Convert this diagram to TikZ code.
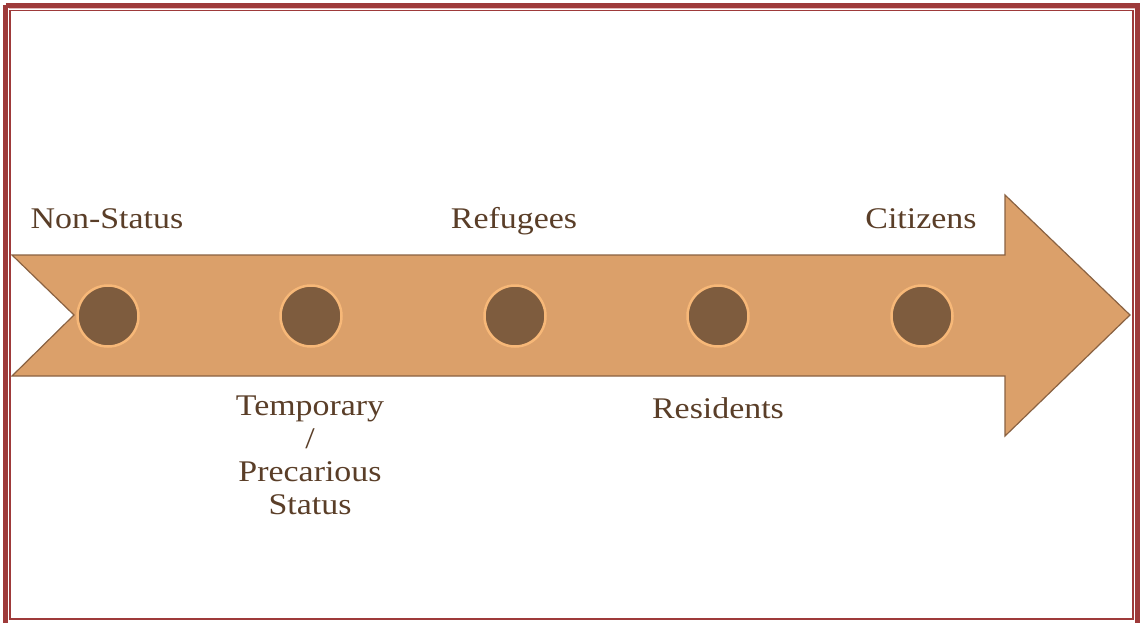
\documentclass[tikz,border=0pt]{standalone}
\usepackage{fontspec}
\setmainfont{Liberation Serif}[FakeStretch=1.13]
\definecolor{frame}{HTML}{9E3A3A}
\definecolor{framelight}{HTML}{E2B8B8}
\definecolor{arrowfill}{HTML}{DBA06A}
\definecolor{arrowedge}{HTML}{8A6242}
\definecolor{dotfill}{HTML}{7E5C3E}
\definecolor{dotring}{HTML}{F7B878}
\definecolor{txt}{HTML}{5A3E28}
\tikzset{
  dot/.style={circle, fill=dotfill, draw=dotring, line width=2.5pt, minimum size=61pt, inner sep=0pt},
  lbl/.style={text=txt, font=\fontsize{30}{33}\selectfont, anchor=base, align=center, inner sep=0pt},
}
\begin{document}
\begin{tikzpicture}[x=1pt,y=-1pt]
\useasboundingbox (0,0) rectangle (1143,623);
\fill[white] (0,0) rectangle (1143,623);
% frame
\draw[frame, line width=5pt] (5.5,5.5) -- (1137.5,5.5) -- (1137.5,640) (5.5,640) -- (5.5,5.5);
\draw[framelight, line width=1pt] (8.5,8.5) -- (1134.5,8.5);
\draw[frame, line width=1.2pt] (10,10.5) rectangle (1133,619);
% arrow
\draw[fill=arrowfill, draw=arrowedge, line width=1.2pt, line join=miter]
  (12,255) -- (1005,255) -- (1005,195) -- (1130,315) -- (1005,436) -- (1005,376) -- (12,376) -- (74,315) -- cycle;
% dots
\node[dot] (d1) at (108,316) {};
\node[dot] (d2) at (311,316) {};
\node[dot] (d3) at (515,316) {};
\node[dot] (d4) at (718,316) {};
\node[dot] (d5) at (922,316) {};
% labels
\node[lbl] (l1) at (107,228) {Non-Status};
\node[lbl] (l3) at (514,228) {Refugees};
\node[lbl] (l5) at (921,228) {Citizens};
\node[lbl, anchor=north] (l2) at (310,396) {Temporary\\/\\Precarious\\Status};
\node[lbl] (l4) at (718,418) {Residents};
\end{tikzpicture}
\end{document}
